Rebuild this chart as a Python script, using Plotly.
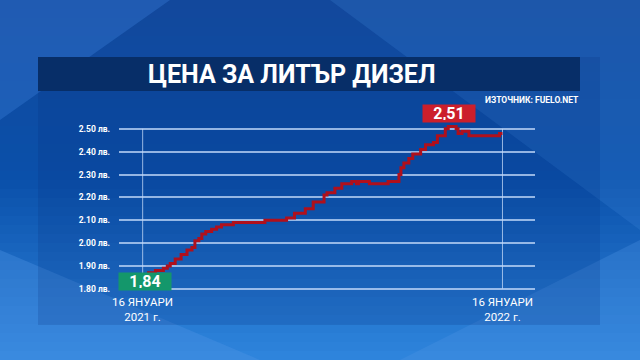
import plotly.graph_objects as go

# ---------------- data ----------------
dates = ["2021-01-16", "2021-01-20", "2021-01-22", "2021-01-29", "2021-02-06", "2021-02-10",
         "2021-02-13", "2021-02-18", "2021-02-24", "2021-03-02", "2021-03-07", "2021-03-10",
         "2021-03-14", "2021-03-17", "2021-03-21", "2021-03-27", "2021-04-01", "2021-04-06",
         "2021-04-18", "2021-05-20", "2021-06-11", "2021-06-19", "2021-06-30", "2021-07-08",
         "2021-07-19", "2021-07-22", "2021-07-30", "2021-08-06", "2021-08-16", "2021-08-21",
         "2021-08-23", "2021-09-03", "2021-09-22", "2021-10-03", "2021-10-05", "2021-10-08",
         "2021-10-13", "2021-10-17", "2021-10-25", "2021-10-30", "2021-11-07", "2021-11-11",
         "2021-11-19", "2021-11-22", "2021-11-30", "2021-12-02", "2021-12-06", "2021-12-13",
         "2022-01-13", "2022-01-16"]
prices = [1.84, 1.86, 1.87, 1.88, 1.89, 1.90,
          1.91, 1.93, 1.95, 1.97, 1.98, 2.01,
          2.02, 2.04, 2.05, 2.06, 2.07, 2.08,
          2.09, 2.10, 2.11, 2.13, 2.15, 2.18,
          2.21, 2.22, 2.24, 2.26, 2.27, 2.26,
          2.27, 2.26, 2.27, 2.30, 2.33, 2.35,
          2.37, 2.39, 2.41, 2.43, 2.44, 2.47,
          2.50, 2.51, 2.50, 2.48, 2.49, 2.47,
          2.48, 2.48]

y_ticks = [1.80, 1.90, 2.00, 2.10, 2.20, 2.30, 2.40, 2.50]
y_tick_text = ["1.80 лв.", "1.90 лв.", "2.00 лв.", "2.10 лв.", "2.20 лв.", "2.30 лв.", "2.40 лв.", "2.50 лв."]
x_marks = ["2021-01-16", "2022-01-16"]
x_mark_labels = ["16 ЯНУАРИ<br>2021 г.", "16 ЯНУАРИ<br>2022 г."]

title_text = "ЦЕНА ЗА ЛИТЪР ДИЗЕЛ"
source_text = "ИЗТОЧНИК: FUELO.NET"
start_label = "1,84"
peak_label = "2,51"

# ---------------- layout geometry ----------------
W, H = 640, 360
L, R, T, B = 119, 105, 122, 69
PW, PH = W - L - R, H - T - B


def px(x):
    return (x - L) / PW


def py(y):
    return (H - B - y) / PH


def rgb_mix(c1, c2, t):
    return "rgb(%d,%d,%d)" % tuple(round(a + (b - a) * t) for a, b in zip(c1, c2))


shapes = []
# vertical background gradient
top_c, mid_c, bot_c = (18, 72, 156), (10, 80, 170), (46, 132, 220)
n = 40
for i in range(n):
    y0 = H * i / n
    y1 = H * (i + 1) / n + 0.6
    t = i / (n - 1)
    c = rgb_mix(top_c, mid_c, t * 2) if t < 0.5 else rgb_mix(mid_c, bot_c, (t - 0.5) * 2)
    shapes.append(dict(type="rect", xref="paper", yref="paper", x0=px(0), x1=px(W),
                       y0=py(y1), y1=py(y0), fillcolor=c, line_width=0, layer="below"))

# light diagonal streaks
def poly(points, color):
    path = "M " + " L ".join("%f,%f" % (px(a), py(b)) for a, b in points) + " Z"
    shapes.append(dict(type="path", xref="paper", yref="paper", path=path,
                       fillcolor=color, line_width=0, layer="below"))

poly([(0, 0), (170, 0), (0, 120)], "rgba(60,130,220,0.35)")
poly([(330, 0), (640, 0), (640, 230)], "rgba(70,140,225,0.22)")
poly([(0, 250), (260, 360), (0, 360)], "rgba(80,150,230,0.35)")
poly([(400, 360), (640, 240), (640, 360)], "rgba(80,150,230,0.30)")

# chart panel
shapes.append(dict(type="rect", xref="paper", yref="paper", x0=px(38), x1=px(600),
                   y0=py(325), y1=py(57), fillcolor="rgba(5,45,120,0.18)", line_width=0,
                   layer="below"))
# title banner
shapes.append(dict(type="rect", xref="paper", yref="paper", x0=px(38), x1=px(580),
                   y0=py(91), y1=py(57), fillcolor="rgb(7,46,104)", line_width=0,
                   layer="below"))
# vertical marker lines
for d in x_marks:
    shapes.append(dict(type="line", xref="x", yref="y", x0=d, x1=d, y0=y_ticks[0], y1=y_ticks[-1],
                       line=dict(color="rgba(200,220,250,0.75)", width=1), layer="below"))

fig = go.Figure()
fig.add_trace(go.Scatter(x=dates, y=prices, mode="lines", line_shape="hv",
                         line=dict(color="#b0101c", width=3), hoverinfo="skip"))

annotations = [
    dict(text=title_text, xref="paper", yref="paper", x=px(292), y=py(74), showarrow=False,
         xanchor="center", yanchor="middle",
         font=dict(family="Roboto", size=25, color="white", weight="bold")),
    dict(text=source_text, xref="paper", yref="paper", x=px(581), y=py(100), showarrow=False,
         xanchor="right", yanchor="middle",
         font=dict(family="Roboto", size=8.5, color="white", weight="bold")),
    dict(text=start_label, x=dates[0], y=prices[0], xref="x", yref="y", showarrow=False,
         xshift=2, yshift=-2, bgcolor="#14976b", width=48, height=13, borderpad=2,
         font=dict(family="Roboto", size=16, color="white", weight="bold")),
]
peak_i = prices.index(max(prices))
annotations.append(dict(text=peak_label, x=dates[peak_i], y=prices[peak_i], xref="x", yref="y",
                        showarrow=False, xshift=1, yshift=13, bgcolor="#cc1f2b", width=48,
                        height=13, borderpad=2,
                        font=dict(family="Roboto", size=16, color="white", weight="bold")))
for d, lab in zip(x_marks, x_mark_labels):
    annotations.append(dict(text=lab, x=d, xref="x", yref="paper", y=py(309), showarrow=False,
                            xanchor="center", yanchor="middle",
                            font=dict(family="Roboto", size=11.5, color="white")))

fig.update_layout(
    width=W, height=H, margin=dict(l=L, r=R, t=T, b=B, autoexpand=False),
    paper_bgcolor="rgb(14,80,168)", plot_bgcolor="rgba(0,0,0,0)",
    showlegend=False, shapes=shapes, annotations=annotations,
    xaxis=dict(range=["2020-12-23", "2022-02-18"], showgrid=False, zeroline=False,
               showticklabels=False, showline=False, fixedrange=True),
    yaxis=dict(range=[1.79, 2.53], tickvals=y_ticks, ticktext=y_tick_text,
               showgrid=True, gridcolor="rgba(195,218,250,0.75)", gridwidth=1.5,
               zeroline=False, showline=False, ticks="", ticklabelstandoff=8,
               tickfont=dict(family="Roboto", size=8.5, color="white", weight="bold")),
)

fig.write_html("out.html", config={"displayModeBar": False})
